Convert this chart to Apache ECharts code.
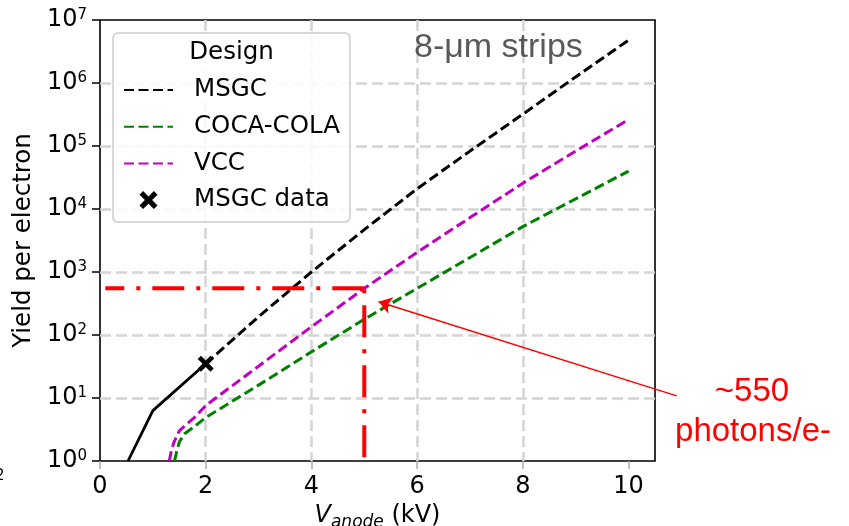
<!DOCTYPE html>
<html>
<head>
<meta charset="utf-8">
<script src="https://cdn.jsdelivr.net/npm/echarts@6/dist/echarts.min.js"></script>
<style>html,body{margin:0;padding:0;background:#fff;}#c{width:849px;height:526px;}</style>
</head>
<body>
<div id="c"></div>
<script>
// ---- data ----
const xTicks = [0, 2, 4, 6, 8, 10];
const msgcSolidX = [0.53, 1.0, 2.0];
const msgcSolidY = [1, 6.3, 35];
const msgcX = [2, 3, 4, 5, 6, 7, 8, 9, 10];
const msgcY = [35, 195, 1000, 4700, 21000, 83000, 320000, 1250000, 4800000];
const cocaX = [1.41, 1.45, 1.5, 1.6, 1.8, 2, 3, 4, 5, 6, 7, 8, 9, 10];
const cocaY = [1, 1.4, 2.0, 2.7, 3.6, 4.9, 16, 54, 178, 550, 1700, 5250, 14500, 40000];
const vccX = [1.31, 1.35, 1.4, 1.5, 1.6, 1.8, 2, 3, 4, 5, 6, 7, 8, 9, 10];
const vccY = [1, 1.45, 2.0, 3.0, 3.6, 5.0, 7.6, 32, 135, 550, 2050, 7300, 25700, 83000, 263000];
const msgcDataX = [2];
const msgcDataY = [35];
const guideHX = [5, 0.1];
const guideHY = [550, 550];
const guideVX = [5, 5];
const guideVY = [550, 1];
const arrowX = [10.91, 5.27];
const arrowY = [10.8, 338];
const legendNames = ['MSGC', 'COCA-COLA', 'VCC', 'MSGC data'];

const pairs = (xs, ys) => xs.map((x, i) => [x, ys[i]]);
const FONT = 'DejaVu Sans';
const xPath = 'path://M2,0 L5,3 L8,0 L10,2 L7,5 L10,8 L8,10 L5,7 L2,10 L0,8 L3,5 L0,2 Z';
const dash = [10, 4.5];
const LW = 3;

const chart = echarts.init(document.getElementById('c'), null, {renderer: 'canvas'});
const option = {
  animation: false,
  backgroundColor: '#ffffff',
  grid: {left: 100, right: 194, top: 20, bottom: 65, containLabel: false, outerBoundsMode: 'none',
    show: true, borderColor: '#000', borderWidth: 1.6, backgroundColor: 'transparent'},
  xAxis: {
    type: 'value', min: 0, max: 10.5, interval: 2,
    name: '{v|V}{sub|anode}{n| (kV)}', nameLocation: 'middle', nameGap: 40,
    nameTextStyle: {
      rich: {
        v: {fontSize: 24, fontFamily: FONT, fontStyle: 'italic', color: '#000', lineHeight: 27, verticalAlign: 'top'},
        sub: {fontSize: 17, fontFamily: FONT, fontStyle: 'italic', color: '#000', lineHeight: 17, verticalAlign: 'bottom'},
        n: {fontSize: 24, fontFamily: FONT, color: '#000', lineHeight: 27, verticalAlign: 'top'}
      }
    },
    axisLine: {show: false},
    axisTick: {show: true, length: 8, customValues: xTicks, lineStyle: {color: '#aaaaaa', width: 1.5}},
    axisLabel: {customValues: xTicks, fontSize: 24, fontFamily: FONT, color: '#000', margin: 14,
      formatter: v => String(v)},
    splitLine: {show: true, showMinLine: false, showMaxLine: false, lineStyle: {color: '#d4d4d4', width: 2.5, type: [11, 5]}}
  },
  yAxis: {
    type: 'log', logBase: 10, min: 1, max: 1e7, splitNumber: 7,
    name: 'Yield per electron', nameLocation: 'middle', nameGap: 62,
    nameTextStyle: {fontSize: 24.5, fontFamily: FONT, color: '#000'},
    axisLine: {show: false},
    axisTick: {show: true, length: 8, lineStyle: {color: '#000', width: 1.5}},
    minorTick: {show: false},
    axisLabel: {
      margin: 13,
      formatter: v => '{b|10}{s|' + Math.round(Math.log10(v)) + '}',
      rich: {
        b: {fontSize: 24, fontFamily: FONT, color: '#000', lineHeight: 24},
        s: {fontSize: 15, fontFamily: FONT, color: '#000', lineHeight: 15, verticalAlign: 'top'}
      }
    },
    splitLine: {show: true, showMinLine: false, showMaxLine: false, lineStyle: {color: '#d4d4d4', width: 2.5, type: [11, 5]}}
  },
  legend: {
    data: [
      {name: legendNames[0], itemStyle: {opacity: 0}},
      {name: legendNames[1], itemStyle: {opacity: 0}},
      {name: legendNames[2], itemStyle: {opacity: 0}},
      {name: legendNames[3], itemStyle: {opacity: 1}}
    ],
    orient: 'vertical', left: 113, top: 33,
    padding: [43, 10, 8, 10],
    itemWidth: 49, itemHeight: 18, itemGap: 8.7,
    backgroundColor: 'rgba(255,255,255,0.85)', borderColor: '#cccccc', borderWidth: 1.5, borderRadius: 5,
    textStyle: {fontSize: 24.5, fontFamily: FONT, color: '#000', lineHeight: 28, padding: [0, 0, 0, 16]},
    selectedMode: false
  },
  graphic: [
    {type: 'text', z: 100, x: 231.5, y: 53, style: {text: 'Design', font: '24.5px "DejaVu Sans"', fill: '#000', align: 'center', verticalAlign: 'middle'}},
    {type: 'text', z: 100, x: 414, y: 48, style: {text: '8-\u03bcm strips', font: '34px "Liberation Sans"', fill: '#595959', align: 'left', verticalAlign: 'middle'}},
    {type: 'text', z: 100, x: 752, y: 392, style: {text: '~550', font: '33px "Liberation Sans"', fill: '#ff0000', align: 'center', verticalAlign: 'middle'}},
    {type: 'text', z: 100, x: 753, y: 432, style: {text: 'photons/e-', font: '33px "Liberation Sans"', fill: '#ff0000', align: 'center', verticalAlign: 'middle'}},
    {type: 'text', z: 100, x: -5, y: 476, style: {text: '2', font: '15px "DejaVu Sans"', fill: '#000', align: 'left', verticalAlign: 'middle'}}
  ],
  series: [
    {name: 'MSGC low', type: 'line', data: pairs(msgcSolidX, msgcSolidY), symbol: 'none', lineStyle: {color: '#000', width: 2.8}, itemStyle: {color: '#000'}, z: 3},
    {name: 'MSGC', type: 'line', data: pairs(msgcX, msgcY), symbol: 'none', lineStyle: {color: '#000', width: LW, type: dash}, itemStyle: {color: '#000'}, z: 3},
    {name: 'COCA-COLA', type: 'line', data: pairs(cocaX, cocaY), symbol: 'none', lineStyle: {color: '#008000', width: LW, type: dash}, itemStyle: {color: '#008000'}, z: 3},
    {name: 'VCC', type: 'line', data: pairs(vccX, vccY), symbol: 'none', lineStyle: {color: '#bf00bf', width: LW, type: dash}, itemStyle: {color: '#bf00bf'}, z: 3},
    {name: 'guideH', type: 'line', data: pairs(guideHX, guideHY), symbol: 'none', silent: true, lineStyle: {color: '#ff0000', width: 4, type: [32, 12, 4, 12], dashOffset: 0, cap: 'butt'}, z: 4},
    {name: 'guideV', type: 'line', data: pairs(guideVX, guideVY), symbol: 'none', silent: true, lineStyle: {color: '#ff0000', width: 4, type: [32, 12, 4, 12], dashOffset: 43, cap: 'butt'}, z: 4},
    {name: 'arrow', type: 'lines', coordinateSystem: 'cartesian2d', clip: false, silent: true, z: 6,
      symbol: ['none', 'arrow'], symbolSize: [9, 13],
      lineStyle: {color: '#ff0000', width: 1.5, opacity: 1},
      data: [{coords: pairs(arrowX, arrowY)}]},
    {name: 'MSGC data', type: 'scatter', data: pairs(msgcDataX, msgcDataY), symbol: xPath, symbolSize: 16, itemStyle: {color: '#000', opacity: 1}, z: 7}
  ]
};
chart.setOption(option);
</script>
</body>
</html>
